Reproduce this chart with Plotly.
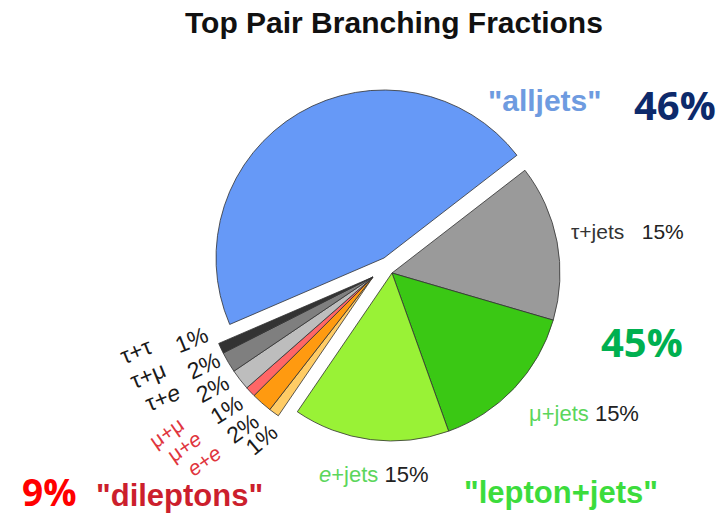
import plotly.graph_objects as go

# Top pair decay channels (percent), in clockwise drawing order
channels = ["τ+jets", "μ+jets", "e+jets", "e+e", "μ+e", "μ+μ", "τ+e", "τ+μ", "τ+τ", "alljets"]
fractions = [15, 15, 15, 1, 2, 1, 2, 2, 1, 46]
colors = ["#9a9a9a", "#3ac814", "#99f236", "#ffcc66", "#ff9a10", "#ff6666",
          "#bdbdbd", "#7f7f7f", "#333333", "#6699f7"]

# Which slices belong to each drawn group
groups = {
    "core": ["τ+jets", "μ+jets", "e+jets"],
    "alljets": ["alljets"],
    "dileptons": ["e+e", "μ+e", "μ+μ", "τ+e", "τ+μ", "τ+τ"],
}

W, H = 728, 517
CX, CY, R = 392, 273, 168
# explode offsets in pixels (x right, y down)
offsets = {"core": (0, 0), "alljets": (-8, -15), "dileptons": (-19, 4)}

fig = go.Figure()
for name, members in groups.items():
    dx, dy = offsets[name]
    cx, cy = CX + dx, CY + dy
    col = [c if ch in members else "rgba(0,0,0,0)" for ch, c in zip(channels, colors)]
    lw = [1 if ch in members else 0 for ch in channels]
    fig.add_trace(go.Pie(
        labels=channels, values=fractions, sort=False,
        direction="clockwise", rotation=52.3,
        marker=dict(colors=col, line=dict(color="rgba(50,50,50,0.8)", width=lw)),
        textinfo="none", hoverinfo="skip", showlegend=False,
        domain=dict(x=[(cx - R) / W, (cx + R) / W],
                    y=[1 - (cy + R) / H, 1 - (cy - R) / H]),
    ))

annotations = []
SANS = "Liberation Sans, Arial, sans-serif"
BIG = "Open Sans, sans-serif"


def add(text, px, py, size, color, family=SANS, angle=0):
    annotations.append(dict(
        text=text, x=px / W, y=1 - py / H, xref="paper", yref="paper",
        xanchor="center", yanchor="middle", showarrow=False, textangle=angle,
        font=dict(size=size, color=color, family=family)))


add("<b>Top Pair Branching Fractions</b>", 394, 23, 30, "#111111")
add('<b>"alljets"</b>', 545, 100, 30, "#6e9be0")
add("<b>46%</b>", 675, 104, 40, "#0d2a6b", family=BIG)
add("<b>45%</b>", 642, 341, 40, "#00b050", family=BIG)
add("<b>9%</b>", 49, 491, 37, "#ff0000", family=BIG)
add('<b>"dileptons"</b>', 179, 495, 31, "#cc1f2d")
add('<b>"lepton+jets"</b>', 561, 492, 31, "#3cdc3c")

add('<span style="color:#333333">τ+jets</span>&nbsp;&nbsp;&nbsp;<span style="color:#222222">15%</span>',
    627, 231, 21, "#222222")
add('<span style="color:#5cd65c">μ+jets</span> <span style="color:#222222">15%</span>',
    584, 413, 22, "#222222")
add('<span style="color:#5cd65c"><i>e</i>+jets</span> <span style="color:#222222">15%</span>',
    374, 474, 22, "#222222")

# small dilepton labels, tilted along the exploded wedge
dl_names = ["τ+τ", "τ+μ", "τ+<i>e</i>"]
dl_name_pos = [(136, 351), (148, 375), (162, 398)]
dl_pct = ["1%", "2%", "2%", "1%", "2%", "1%"]
dl_pct_pos = [(191, 340), (203, 366), (212, 389), (226, 410), (243, 428), (261, 440)]
dl_pct_angle = [-22, -25, -28, -32, -36, -40]
for t, (x, y) in zip(dl_names, dl_name_pos):
    add(t, x, y, 23, "#1a1a1a", angle=-22)
red_names = ["μ+μ", "μ+<i>e</i>", "<i>e</i>+<i>e</i>"]
red_pos = [(166, 432), (184, 446), (204, 460)]
for t, (x, y) in zip(red_names, red_pos):
    add(t, x, y, 21, "#e0353d", angle=-35)
for t, (x, y), a in zip(dl_pct, dl_pct_pos, dl_pct_angle):
    add(t, x, y, 23, "#1a1a1a", angle=a)

fig.update_layout(
    width=W, height=H, margin=dict(l=0, r=0, t=0, b=0),
    paper_bgcolor="white", plot_bgcolor="white",
    annotations=annotations,
)
fig.write_html("out.html")
